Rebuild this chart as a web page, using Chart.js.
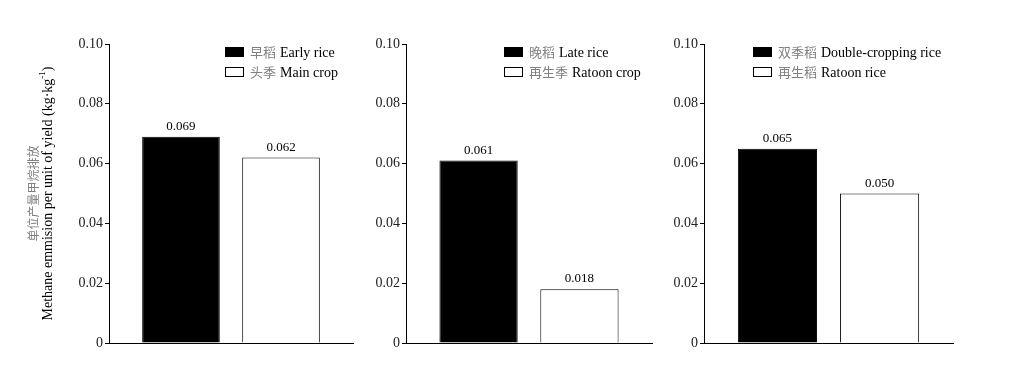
<!DOCTYPE html>
<html>
<head>
<meta charset="utf-8">
<script src="https://cdn.jsdelivr.net/npm/chart.js@4.4.0/dist/chart.umd.min.js"></script>
<style>
body { margin: 0; background: #fff; }
#wrap { position: relative; width: 1018px; height: 388px; }
#wrap canvas { position: absolute; top: 0; }
</style>
</head>
<body>
<div id="wrap">
    <canvas id="c1" width="360" height="388" style="left:0px"></canvas>
    <canvas id="c2" width="300" height="388" style="left:360px"></canvas>
    <canvas id="c3" width="358" height="388" style="left:660px"></canvas>
</div>
<script>
// 数据
const legendCn = [['早稻', '头季'], ['晚稻', '再生季'], ['双季稻', '再生稻']];
const legendEn = [['Early rice', 'Main crop'], ['Late rice', 'Ratoon crop'], ['Double-cropping rice', 'Ratoon rice']];
const values = [[0.069, 0.062], [0.061, 0.018], [0.065, 0.050]];
const yTicks = [0, 0.02, 0.04, 0.06, 0.08, 0.10];
const yTitleCn = '单位产量甲烷排放';
const yTitleEn = 'Methane emmision per unit of yield (kg·kg';
const yTitleSup = '-1';

const barColors = ['#000000', '#ffffff'];

// 每个面板的位置
const panels = [
    { id: 'c1', axisW: 109, padRight: 7, legendX: 225 },
    { id: 'c2', axisW: 46, padRight: 8, legendX: 144 },
    { id: 'c3', axisW: 44, padRight: 65, legendX: 93 }
];

const SERIF = '"Liberation Serif", "Times New Roman", serif';
const CJK = '"Noto Sans CJK SC", sans-serif';

// 图例
const boxLegend = {
    id: 'boxLegend',
    afterDraw(chart, args, opts) {
        const ctx = chart.ctx;
        ctx.save();
        chart.data.datasets.forEach((ds, i) => {
            const y = opts.y + i * 20;
            ctx.fillStyle = ds.backgroundColor;
            ctx.fillRect(opts.x, y - 5, 19, 10);
            ctx.strokeStyle = '#000';
            ctx.lineWidth = 1;
            ctx.strokeRect(opts.x + 0.5, y - 4.5, 18, 9);
            ctx.textBaseline = 'middle';
            ctx.textAlign = 'left';
            let tx = opts.x + 25;
            ctx.font = '13px ' + CJK;
            ctx.fillStyle = '#808080';
            ctx.fillText(ds.cn, tx, y);
            tx += ctx.measureText(ds.cn).width + 4;
            ctx.font = '14px ' + SERIF;
            ctx.fillStyle = '#000';
            ctx.fillText(ds.en, tx, y + 1);
        });
        ctx.restore();
    }
};

// 柱顶数值
const valueLabels = {
    id: 'valueLabels',
    afterDatasetsDraw(chart) {
        const ctx = chart.ctx;
        ctx.save();
        ctx.font = '13px ' + SERIF;
        ctx.fillStyle = '#000';
        ctx.textAlign = 'center';
        ctx.textBaseline = 'alphabetic';
        chart.data.datasets.forEach((ds, i) => {
            const bar = chart.getDatasetMeta(i).data[0];
            ctx.fillText(ds.data[0].toFixed(3), bar.x, bar.y - 7);
        });
        ctx.restore();
    }
};

// 纵轴标题（只在第一个面板）
const yTitle = {
    id: 'yTitle',
    afterDraw(chart, args, opts) {
        if (!opts.show) return;
        const ctx = chart.ctx;
        const cy = (chart.chartArea.top + chart.chartArea.bottom) / 2;
        ctx.save();
        ctx.translate(33, cy);
        ctx.rotate(-Math.PI / 2);
        ctx.textAlign = 'center';
        ctx.textBaseline = 'middle';
        ctx.font = '12px ' + CJK;
        ctx.fillStyle = '#808080';
        ctx.fillText(yTitleCn, 0, 0);
        ctx.restore();

        ctx.save();
        ctx.translate(48, cy);
        ctx.rotate(-Math.PI / 2);
        ctx.textBaseline = 'middle';
        ctx.textAlign = 'left';
        ctx.fillStyle = '#000';
        ctx.font = '14px ' + SERIF;
        const w1 = ctx.measureText(yTitleEn).width;
        ctx.font = '9px ' + SERIF;
        const w2 = ctx.measureText(yTitleSup).width;
        ctx.font = '14px ' + SERIF;
        const w3 = ctx.measureText(')').width;
        let x = -(w1 + w2 + w3) / 2;
        ctx.fillText(yTitleEn, x, 0);
        x += w1;
        ctx.font = '9px ' + SERIF;
        ctx.fillText(yTitleSup, x, -5);
        x += w2;
        ctx.font = '14px ' + SERIF;
        ctx.fillText(')', x, 0);
        ctx.restore();
    }
};

panels.forEach((p, k) => {
    new Chart(document.getElementById(p.id), {
        type: 'bar',
        data: {
            labels: [''],
            datasets: values[k].map((v, i) => ({
                data: [v],
                cn: legendCn[k][i],
                en: legendEn[k][i],
                backgroundColor: barColors[i],
                borderColor: '#000',
                borderWidth: 1,
                barPercentage: 0.776,
                categoryPercentage: 0.82
            }))
        },
        options: {
            responsive: false,
            animation: false,
            layout: { padding: { top: 44, right: p.padRight, bottom: 0, left: 0 } },
            plugins: {
                legend: { display: false },
                tooltip: { enabled: false },
                boxLegend: { x: p.legendX, y: 52 },
                yTitle: { show: k === 0 }
            },
            scales: {
                x: {
                    grid: { display: false },
                    border: { display: true, color: '#000', width: 1 },
                    ticks: { display: false },
                    afterFit: s => { s.height = 45; }
                },
                y: {
                    min: 0,
                    max: 0.1,
                    afterBuildTicks: s => { s.ticks = yTicks.map(v => ({ value: v })); },
                    grid: { drawOnChartArea: false, drawTicks: true, tickLength: 4, tickColor: '#000' },
                    border: { display: true, color: '#000', width: 1 },
                    ticks: {
                        padding: 2,
                        color: '#222',
                        font: { family: SERIF, size: 14 },
                        callback: v => v === 0 ? '0' : v.toFixed(2)
                    },
                    afterFit: s => { s.width = p.axisW; }
                }
            }
        },
        plugins: [boxLegend, valueLabels, yTitle]
    });
});
</script>
</body>
</html>
